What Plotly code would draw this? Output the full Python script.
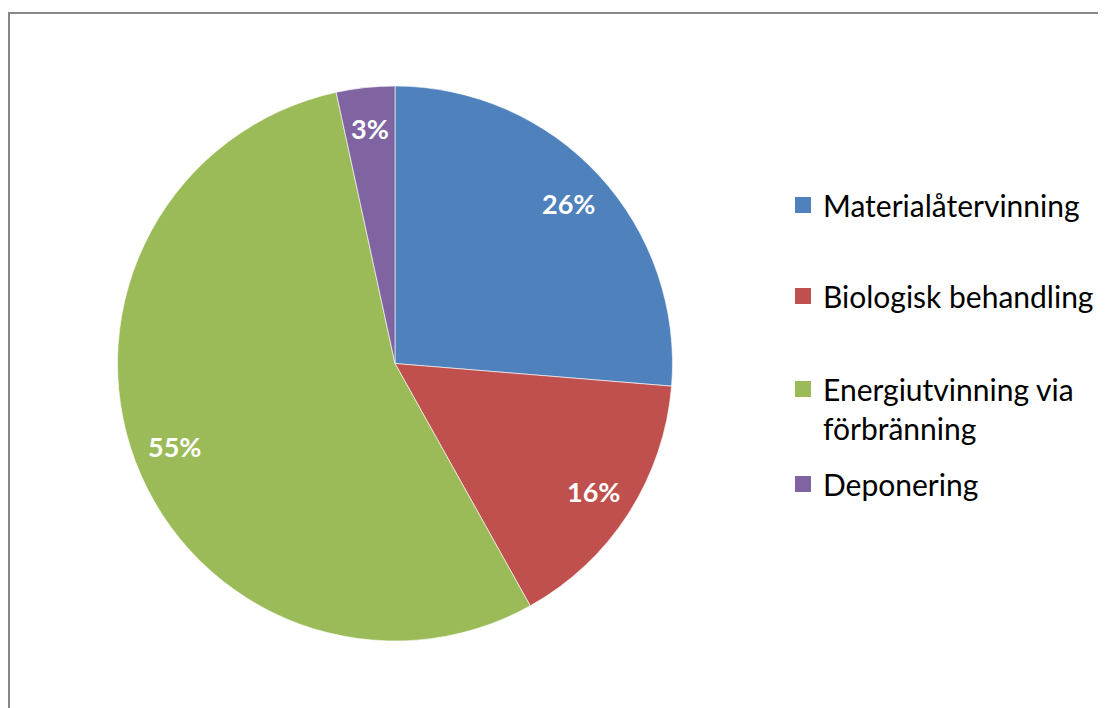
import math
import plotly.graph_objects as go

labels = ["Materialåtervinning", "Biologisk behandling", "Energiutvinning via förbränning", "Deponering"]
legend_text = ["Materialåtervinning", "Biologisk behandling", "Energiutvinning via<br>förbränning", "Deponering"]
values = [26.3, 15.6, 54.7, 3.4]
colors = ["#4F81BD", "#C0504D", "#9BBB59", "#8064A2"]

W, H = 1106, 708
OFF = 8  # page body margin in the browser
FONT = "Lato"

# pie geometry (pixels in the screenshot)
CX, CY, R = 395, 363.5, 277.5
LABEL_FRAC = 0.85

def px_x(x):
    return (x - OFF) / W

def px_y(y):
    return 1 - (y - OFF) / H

fig = go.Figure()
fig.add_trace(go.Pie(
    labels=labels, values=values, sort=False, direction="clockwise", rotation=0,
    marker=dict(colors=colors, line=dict(color="white", width=0.6)),
    textinfo="none",
    domain=dict(x=[px_x(CX - R), px_x(CX + R)], y=[px_y(CY + R), px_y(CY - R)]),
    showlegend=False, hoverinfo="label+percent",
))

# percentage data labels placed Excel-style near the rim
total = sum(values)
annotations = []
cum = 0.0
for v in values:
    mid = (cum + v / 2) / total * 2 * math.pi
    cum += v
    lx = CX + LABEL_FRAC * R * math.sin(mid)
    ly = CY - LABEL_FRAC * R * math.cos(mid)
    annotations.append(dict(
        x=px_x(lx), y=px_y(ly), xref="paper", yref="paper",
        text=f"{round(v / total * 100)}%", showarrow=False,
        font=dict(family=FONT, size=27, color="white", weight="bold"),
        xanchor="center", yanchor="middle",
    ))

# legend keys (one legend per entry so they sit at Excel-like spacing)
first_line_centers = [206, 297, 390, 485]
layout_legends = {}
for i, (name, col) in enumerate(zip(legend_text, colors)):
    key = "legend" if i == 0 else f"legend{i + 1}"
    fig.add_trace(go.Scatter(
        x=[None], y=[None], mode="markers", name=name,
        marker=dict(symbol="square", size=17, color=col),
        legend=key, showlegend=True, hoverinfo="skip",
    ))
    layout_legends[key] = dict(
        x=px_x(783), xanchor="left",
        y=px_y(first_line_centers[i] - 27), yanchor="top",
        font=dict(family=FONT, size=30, color="black"),
        valign="top", bgcolor="rgba(0,0,0,0)", itemsizing="trace",
    )

fig.update_layout(
    width=W, height=H,
    margin=dict(l=0, r=0, t=0, b=0),
    paper_bgcolor="white", plot_bgcolor="white",
    xaxis=dict(visible=False), yaxis=dict(visible=False),
    annotations=annotations,
    shapes=[dict(type="rect", xref="paper", yref="paper",
                 x0=px_x(9), x1=1.2, y0=-0.2, y1=px_y(13),
                 line=dict(color="#878787", width=2), layer="below")],
    **layout_legends,
)

fig.write_html("out.html")
